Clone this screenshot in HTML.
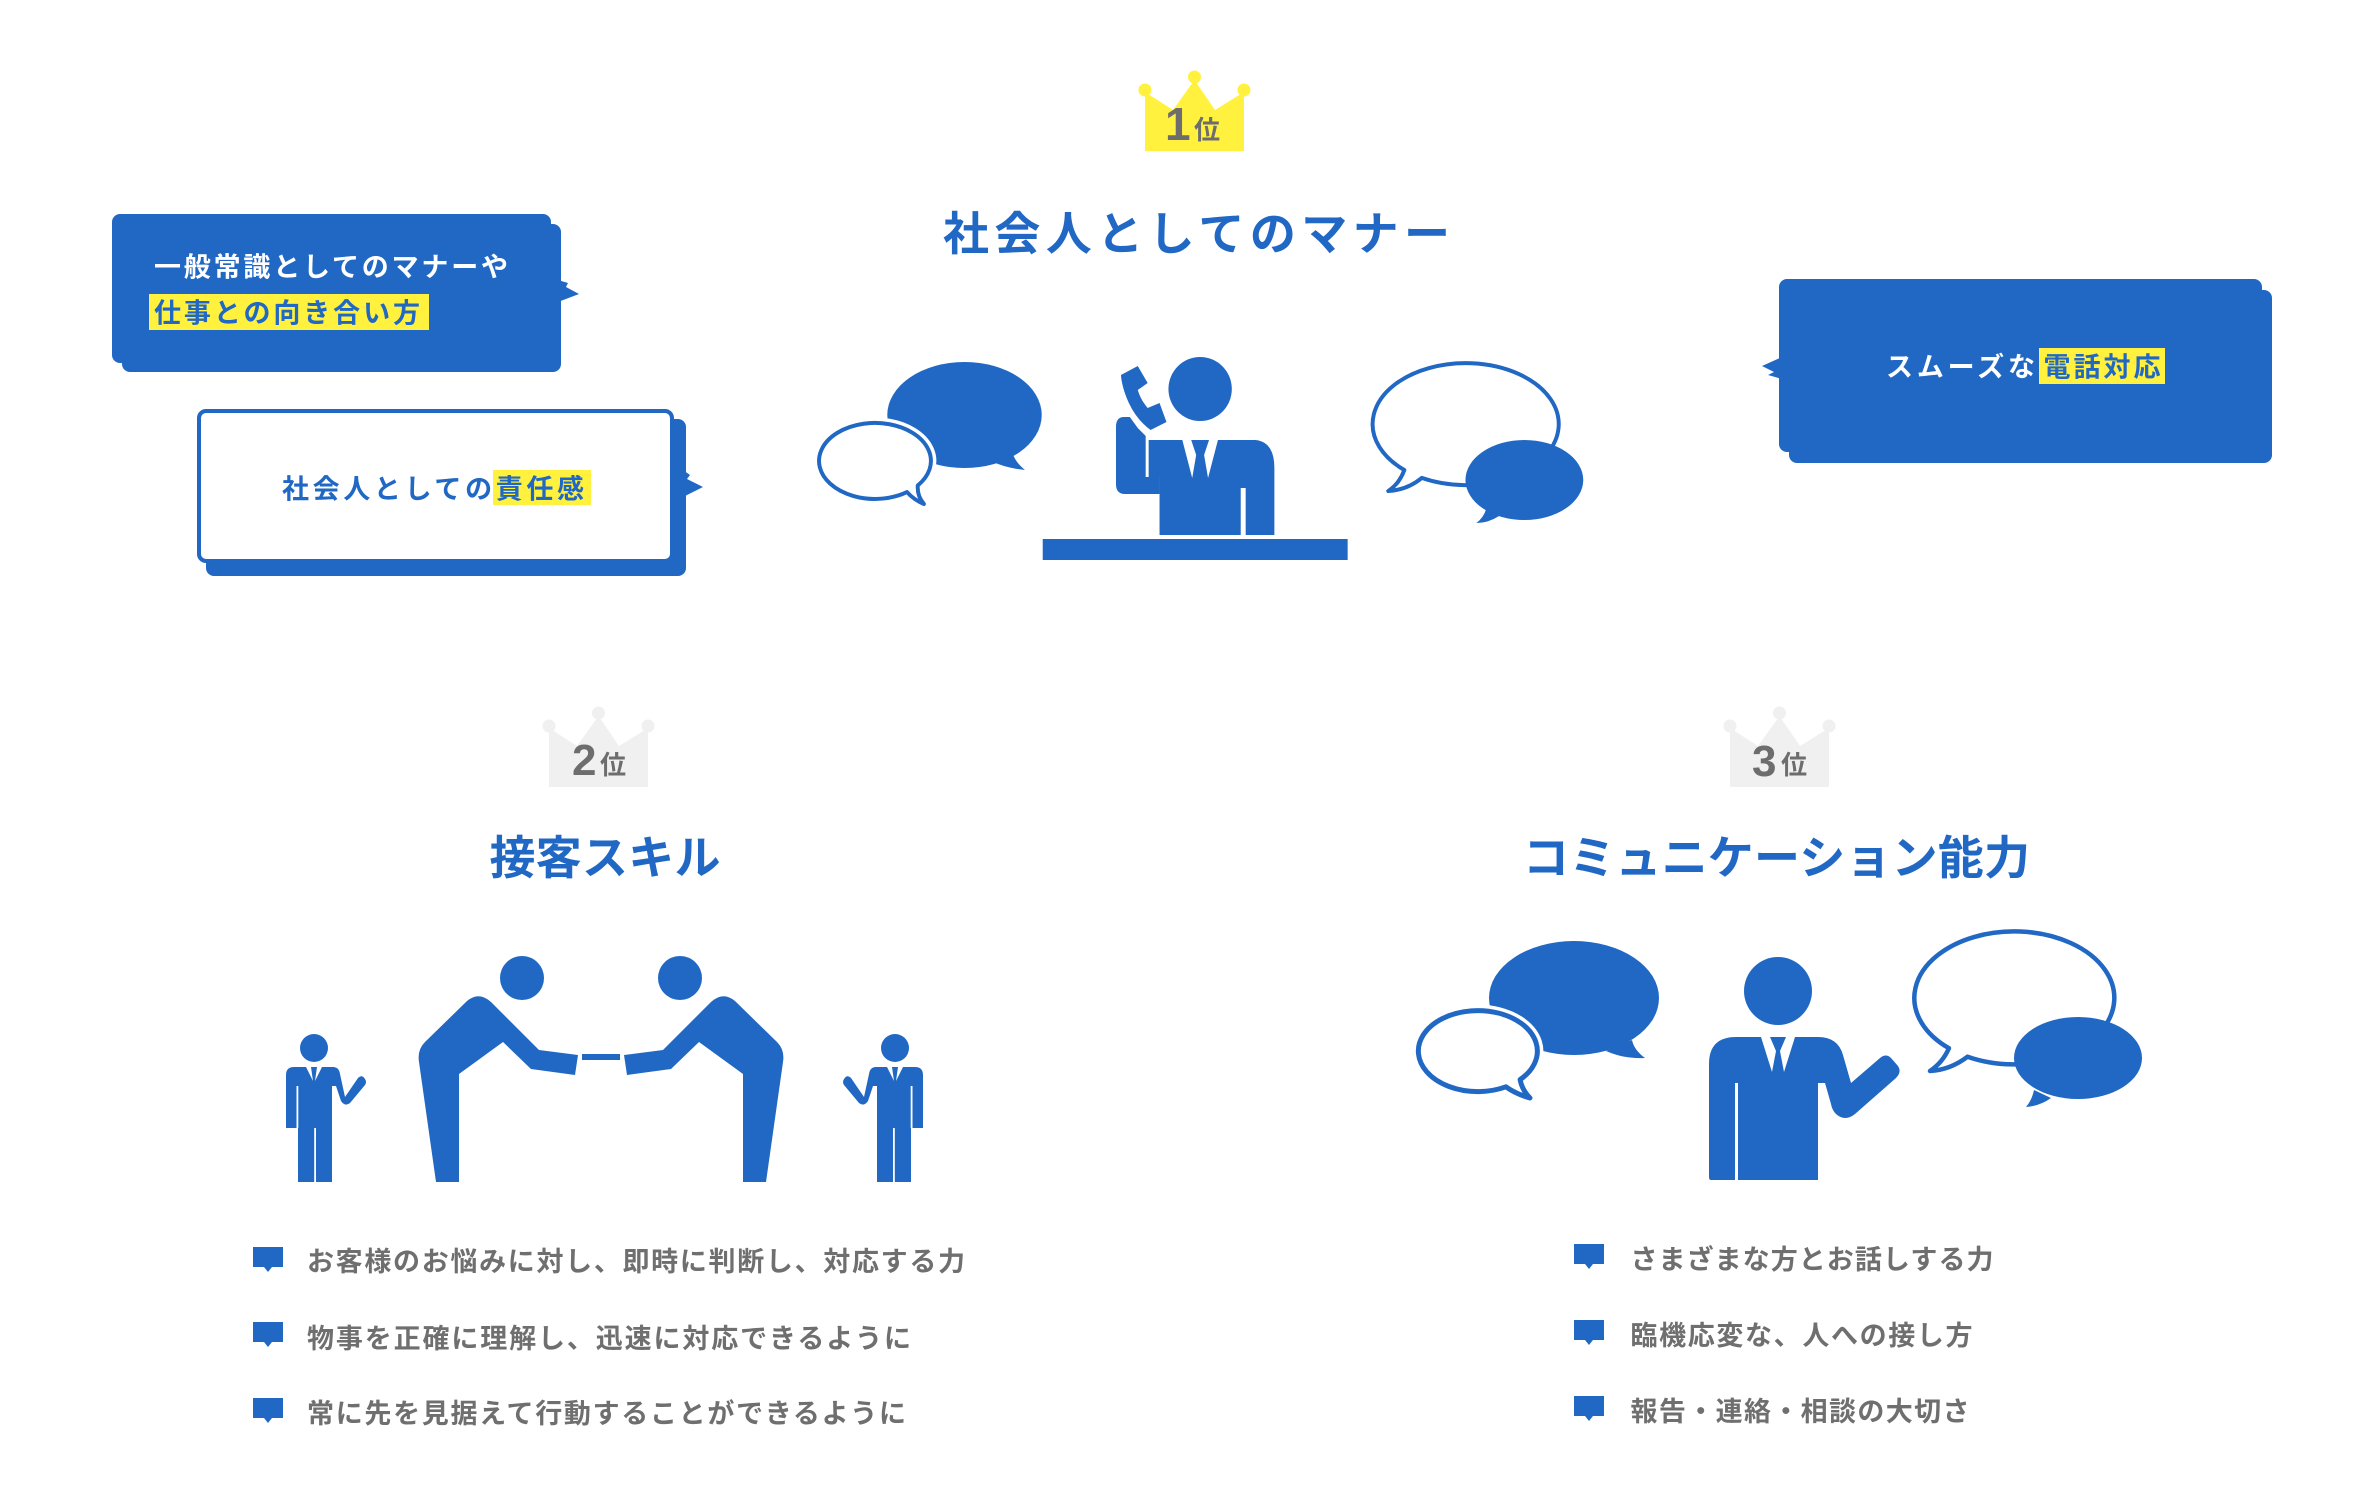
<!DOCTYPE html>
<html lang="ja">
<head>
<meta charset="utf-8">
<style>
  html,body{margin:0;padding:0;background:#fff;}
  body{width:2380px;height:1508px;overflow:hidden;}
  svg{display:block;}
  .t{font-family:"Liberation Sans","Noto Sans CJK JP",sans-serif;font-weight:bold;}
</style>
</head>
<body>
<svg width="2380" height="1508" viewBox="0 0 2380 1508" xmlns="http://www.w3.org/2000/svg">
  <rect x="0" y="0" width="2380" height="1508" fill="#ffffff"/>

  <!-- ===== Crowns ===== -->
  <g id="crown1">
    <circle cx="1145" cy="90" r="6.5" fill="#fff13d"/>
    <circle cx="1194.5" cy="77" r="6.5" fill="#fff13d"/>
    <circle cx="1244" cy="90" r="6.5" fill="#fff13d"/>
    <path d="M1145,92 L1173,110 L1194.5,80 L1215,110 L1244,92 L1244,151 L1145,151 Z" fill="#fff13d"/>
    <text class="t" x="1165" y="140" font-size="46" fill="#6d6d6d">1</text>
    <text class="t" x="1194" y="139" font-size="26" fill="#6d6d6d">位</text>
  </g>
  <g transform="translate(-596,636)">
    <circle cx="1145" cy="90" r="6.5" fill="#f0f0f0"/>
    <circle cx="1194.5" cy="77" r="6.5" fill="#f0f0f0"/>
    <circle cx="1244" cy="90" r="6.5" fill="#f0f0f0"/>
    <path d="M1145,92 L1173,110 L1194.5,80 L1215,110 L1244,92 L1244,151 L1145,151 Z" fill="#f0f0f0"/>
    <text class="t" x="1168" y="139" font-size="44" fill="#6d6d6d">2</text>
    <text class="t" x="1196" y="138" font-size="26" fill="#6d6d6d">位</text>
  </g>
  <g transform="translate(585,636)">
    <circle cx="1145" cy="90" r="6.5" fill="#f0f0f0"/>
    <circle cx="1194.5" cy="77" r="6.5" fill="#f0f0f0"/>
    <circle cx="1244" cy="90" r="6.5" fill="#f0f0f0"/>
    <path d="M1145,92 L1173,110 L1194.5,80 L1215,110 L1244,92 L1244,151 L1145,151 Z" fill="#f0f0f0"/>
    <text class="t" x="1167" y="140" font-size="44" fill="#6d6d6d">3</text>
    <text class="t" x="1196" y="138" font-size="26" fill="#6d6d6d">位</text>
  </g>

  <!-- ===== Titles ===== -->
  <text class="t" x="943" y="250" font-size="46" fill="#2068c4" textLength="507" lengthAdjust="spacing">社会人としてのマナー</text>
  <text class="t" x="489.5" y="874" font-size="46" fill="#2068c4" textLength="231" lengthAdjust="spacing">接客スキル</text>
  <text class="t" x="1523" y="874" font-size="46" fill="#2068c4" textLength="507" lengthAdjust="spacing">コミュニケーション能力</text>

  <!-- ===== Box 1 (filled) ===== -->
  <rect x="122" y="224" width="439" height="148" rx="8" fill="#2068c4"/>
  <rect x="112" y="214" width="439" height="149" rx="8" fill="#2068c4"/>
  <polygon points="558,280 568,283 566,287 579,294 558,302" fill="#2068c4"/>
  <rect x="149" y="294" width="280" height="36" fill="#fff13d"/>
  <text class="t" x="154" y="276.5" font-size="27" fill="#ffffff" textLength="354" lengthAdjust="spacing">一般常識としてのマナーや</text>
  <text class="t" x="154" y="322.5" font-size="27" fill="#2068c4" textLength="266" lengthAdjust="spacing">仕事との向き合い方</text>

  <!-- ===== Box 2 (outlined) ===== -->
  <rect x="206" y="419" width="480" height="157" rx="8" fill="#2068c4"/>
  <rect x="199" y="411" width="473" height="150" rx="7" fill="#ffffff" stroke="#2068c4" stroke-width="4"/>
  <polygon points="683,470 690,475 687,479 703,487 683,497" fill="#2068c4"/>
  <rect x="493" y="470" width="98" height="35" fill="#fff13d"/>
  <text class="t" x="282" y="498.5" font-size="27" fill="#2068c4" textLength="302" lengthAdjust="spacing">社会人としての責任感</text>

  <!-- ===== Right box ===== -->
  <rect x="1789" y="290" width="483" height="173" rx="8" fill="#2068c4"/>
  <rect x="1779" y="279" width="483" height="173" rx="8" fill="#2068c4"/>
  <polygon points="1782,357 1762,366 1774,372 1768,375 1782,379" fill="#2068c4"/>
  <rect x="2039" y="348" width="126" height="36" fill="#fff13d"/>
  <text class="t" x="1886" y="376.5" font-size="27" fill="#ffffff" textLength="149" lengthAdjust="spacing">スムーズな</text>
  <text class="t" x="2043.5" y="376.5" font-size="27" fill="#2068c4" textLength="117" lengthAdjust="spacing">電話対応</text>

  <!-- ===== Phone scene ===== -->
  <g transform="matrix(0.99,0,0,1,8.17,0)">
  <g fill="#2068c4">
    <ellipse cx="966" cy="415" rx="78" ry="53"/>
    <path d="M995,462 Q1008,468 1027,470 Q1016,461 1014,451 Z"/>
  </g>
  <path d="M918.8,485.4 A56.5,38 0 1,0 907.9,492.1 Q915,500 925,504 Q918,496 918.8,485.4 Z" fill="#ffffff" stroke="#ffffff" stroke-width="11" stroke-linejoin="round"/>
  <path d="M918.8,485.4 A56.5,38 0 1,0 907.9,492.1 Q915,500 925,504 Q918,496 918.8,485.4 Z" fill="#ffffff" stroke="#2068c4" stroke-width="4" stroke-linejoin="round"/>

  <g fill="#2068c4">
    <circle cx="1204" cy="389" r="32"/>
    <path d="M1124,375 L1141,366 L1151,383 L1141,390 Q1144,400 1151,408 L1163,403 L1170,422 L1154,430 Q1140,420 1132,403 Q1125,388 1124,375 Z"/>
    <path d="M1119,427 Q1119,417 1127,417 L1133,417 L1141,428 L1149,436 L1149,477 L1163,477 L1163,494 L1128,494 Q1119,494 1119,484 Z"/>
    <path d="M1152,440 L1260,440 Q1279,442 1279,468 L1279,535 L1163,535 L1163,477 L1152,477 Z"/>
    <rect x="1045" y="539" width="308" height="21"/>
  </g>
  <rect x="1245" y="488" width="5" height="47" fill="#ffffff"/>
  <polygon points="1186,440 1195,440 1200,455 1196,478" fill="#ffffff"/>
  <polygon points="1222,440 1213,440 1208,455 1212,478" fill="#ffffff"/>

  <path d="M1424.9,477.9 A94,61 0 1,0 1407.3,470 Q1402,484 1391,491 Q1410,490 1424.9,477.9 Z" fill="#ffffff" stroke="#2068c4" stroke-width="4" stroke-linejoin="round" transform="translate(3,0)"/>
  <g fill="#2068c4" transform="translate(3,0)">
    <ellipse cx="1528.5" cy="480" rx="59.5" ry="40"/>
    <path d="M1490,509 Q1487,518 1480,523 Q1492,523 1503,516 Z"/>
  </g>
  </g>

  <!-- ===== Bowing scene ===== -->
  <g id="smallman">
    <circle cx="314" cy="1048" r="14" fill="#2068c4"/>
    <path d="M294,1067 L333,1067 Q339,1067 340,1074 L345,1097 L358,1078 Q362,1074 365,1079 Q367,1082 365,1085 L350,1103 Q345,1107 341,1101 L336,1086 L332,1086 L332,1182 L298,1182 L298,1128 L286,1128 L286,1075 Q286,1067 294,1067 Z" fill="#2068c4"/>
    <rect x="296.5" y="1086" width="1.8" height="42" fill="#ffffff"/>
    <rect x="314.2" y="1128" width="1.8" height="54" fill="#ffffff"/>
    <polygon points="306,1067 311,1067 313,1081" fill="#ffffff"/>
    <polygon points="322,1067 317,1067 315,1081" fill="#ffffff"/>
  </g>
  <g id="bigman">
    <ellipse cx="522" cy="978" rx="22" ry="22" fill="#2068c4"/>
    <path d="M436,1182 L419,1062 Q417,1050 425,1042 L467,1001 Q479,991 491,1002 L539,1050 L578,1055 L575,1075 L531,1069 L503,1042 L459,1074 L459,1182 Z" fill="#2068c4"/>
  </g>
  <rect x="582" y="1054" width="38" height="6" fill="#2068c4"/>
  <g transform="translate(1202,0) scale(-1,1)">
    <ellipse cx="522" cy="978" rx="22" ry="22" fill="#2068c4"/>
    <path d="M436,1182 L419,1062 Q417,1050 425,1042 L467,1001 Q479,991 491,1002 L539,1050 L578,1055 L575,1075 L531,1069 L503,1042 L459,1074 L459,1182 Z" fill="#2068c4"/>
  </g>
  <g transform="translate(1209,0) scale(-1,1)">
    <circle cx="314" cy="1048" r="14" fill="#2068c4"/>
    <path d="M294,1067 L333,1067 Q339,1067 340,1074 L345,1097 L358,1078 Q362,1074 365,1079 Q367,1082 365,1085 L350,1103 Q345,1107 341,1101 L336,1086 L332,1086 L332,1182 L298,1182 L298,1128 L286,1128 L286,1075 Q286,1067 294,1067 Z" fill="#2068c4"/>
    <rect x="296.5" y="1086" width="1.8" height="42" fill="#ffffff"/>
    <rect x="314.2" y="1128" width="1.8" height="54" fill="#ffffff"/>
    <polygon points="306,1067 311,1067 313,1081" fill="#ffffff"/>
    <polygon points="322,1067 317,1067 315,1081" fill="#ffffff"/>
  </g>

  <!-- ===== Communication scene ===== -->
  <g fill="#2068c4">
    <ellipse cx="1574" cy="998" rx="85" ry="57"/>
    <path d="M1606,1051 Q1624,1059 1645,1058 Q1634,1050 1632,1040 Z"/>
  </g>
  <path d="M1522.1,1079.6 A59.5,40.5 0 1,0 1507.9,1086.8 Q1518,1094 1532,1098 Q1524,1090 1522.1,1079.6 Z" fill="#ffffff" stroke="#ffffff" stroke-width="12" stroke-linejoin="round" transform="translate(-2,0)"/>
  <path d="M1522.1,1079.6 A59.5,40.5 0 1,0 1507.9,1086.8 Q1518,1094 1532,1098 Q1524,1090 1522.1,1079.6 Z" fill="#ffffff" stroke="#2068c4" stroke-width="5" stroke-linejoin="round" transform="translate(-2,0)"/>

  <g fill="#2068c4">
    <circle cx="1778" cy="991" r="34"/>
    <path d="M1736,1037 L1818,1037 Q1838,1037 1843,1055 L1851,1083 L1880,1058 Q1886,1053 1891,1058 L1898,1066 Q1902,1072 1896,1078 L1855,1114 Q1845,1122 1836,1114 Q1832,1110 1831,1104 L1825,1083 L1818,1083 L1818,1180 L1711,1180 Q1709,1180 1709,1177 L1709,1064 Q1709,1037 1736,1037 Z"/>
  </g>
  <rect x="1735" y="1083" width="3" height="97" fill="#ffffff"/>
  <polygon points="1761,1037 1770,1037 1776,1051 1772,1072" fill="#ffffff"/>
  <polygon points="1795,1037 1786,1037 1780,1051 1784,1072" fill="#ffffff"/>

  <path d="M1967.6,1056.7 A100,66.5 0 1,0 1948.9,1048.2 Q1943,1062 1930,1071 Q1950,1070 1967.6,1056.7 Z" fill="#ffffff" stroke="#2068c4" stroke-width="4.5" stroke-linejoin="round"/>
  <g fill="#2068c4">
    <ellipse cx="2078" cy="1058" rx="64" ry="41"/>
    <path d="M2034,1090 Q2032,1100 2026,1107 Q2040,1106 2051,1098 Z"/>
  </g>

  <!-- ===== Lists ===== -->
  <g fill="#2068c4">
    <path d="M253,1247 h30 v20 h-11 l-4,5 l-4,-5 h-11 z"/>
    <path d="M253,1322 h30 v20 h-11 l-4,5 l-4,-5 h-11 z"/>
    <path d="M253,1398 h30 v20 h-11 l-4,5 l-4,-5 h-11 z"/>
    <path d="M1574,1244 h30 v20 h-11 l-4,5 l-4,-5 h-11 z"/>
    <path d="M1574,1320 h30 v20 h-11 l-4,5 l-4,-5 h-11 z"/>
    <path d="M1574,1396 h30 v20 h-11 l-4,5 l-4,-5 h-11 z"/>
  </g>
  <g class="t" font-size="27" fill="#6f6f6f">
    <text x="307" y="1271" textLength="658" lengthAdjust="spacing">お客様のお悩みに対し、即時に判断し、対応する力</text>
    <text x="307" y="1348" textLength="604" lengthAdjust="spacing">物事を正確に理解し、迅速に対応できるように</text>
    <text x="307" y="1423" textLength="599" lengthAdjust="spacing">常に先を見据えて行動することができるように</text>
    <text x="1630.5" y="1269" textLength="363" lengthAdjust="spacing">さまざまな方とお話しする力</text>
    <text x="1630.5" y="1345" textLength="342" lengthAdjust="spacing">臨機応変な、人への接し方</text>
    <text x="1630.5" y="1421" textLength="339" lengthAdjust="spacing">報告・連絡・相談の大切さ</text>
  </g>
</svg>
</body>
</html>
